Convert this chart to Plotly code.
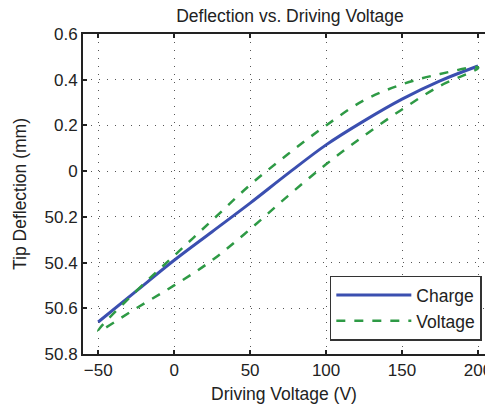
import plotly.graph_objects as go

# Data
charge_x = [-50, -25, 0, 25, 50, 75, 100, 125, 150, 175, 200]
charge_y = [-0.66, -0.525, -0.39, -0.265, -0.14, -0.01, 0.115, 0.22, 0.315, 0.395, 0.46]

# Voltage loop: upper branch then lower branch back
volt_up_x = [-50, -25, 0, 25, 50, 75, 100, 125, 150, 175, 200]
volt_up_y = [-0.70, -0.525, -0.37, -0.215, -0.06, 0.075, 0.20, 0.31, 0.38, 0.425, 0.455]
volt_dn_x = [200, 175, 150, 125, 100, 75, 50, 25, 0, -25, -50]
volt_dn_y = [0.45, 0.373, 0.27, 0.155, 0.03, -0.108, -0.254, -0.39, -0.50, -0.60, -0.70]

x_ticks = [-50, 0, 50, 100, 150, 200]
x_ticktext = ["\u221250", "0", "50", "100", "150", "200"]
y_ticks = [0.6, 0.4, 0.2, 0, -0.2, -0.4, -0.6, -0.8]
y_ticktext = ["0.6", "0.4", "0.2", "0", "50.2", "50.4", "50.6", "50.8"]

font = "Liberation Sans, Arial, Helvetica, sans-serif"

fig = go.Figure()
fig.add_trace(go.Scatter(x=charge_x, y=charge_y, mode="lines", name="Charge",
                         line=dict(color="#3b4fb0", width=3, shape="spline")))
fig.add_trace(go.Scatter(x=volt_up_x + volt_dn_x, y=volt_up_y + volt_dn_y, mode="lines",
                         name="Voltage",
                         line=dict(color="#2e9a45", width=2.5, dash="dash", shape="spline")))

fig.update_layout(
    width=485, height=404,
    margin=dict(l=83, r=0, t=34, b=50, autoexpand=False),
    paper_bgcolor="white", plot_bgcolor="white",
    font=dict(family=font, color="#222222"),
    title=dict(text="Deflection vs. Driving Voltage", x=0.598, xanchor="center",
               xref="container", y=0.96, yanchor="middle",
               font=dict(size=17.5, color="#222222")),
    showlegend=True,
    legend=dict(x=0.614, y=0.042, xanchor="left", yanchor="bottom",
                bgcolor="white", bordercolor="#333333", borderwidth=1.5,
                font=dict(size=17.5, color="#222222"), tracegroupgap=1,
                itemwidth=75),
)
fig.update_xaxes(range=[-60, 204.6], tickvals=x_ticks, ticktext=x_ticktext,
                 automargin=False, ticklabeloverflow="allow",
                 showgrid=True, gridcolor="#555555", griddash="1px,7px", gridwidth=1.2,
                 showline=True, linecolor="#222222", linewidth=2, mirror="ticks",
                 ticks="inside", ticklen=4, tickwidth=2, tickcolor="#222222",
                 zeroline=False, tickfont=dict(size=17),
                 title=dict(text="Driving Voltage (V)", font=dict(size=17.5), standoff=11))
fig.update_yaxes(range=[-0.8, 0.6], tickvals=y_ticks, ticktext=y_ticktext,
                 automargin=False,
                 showgrid=True, gridcolor="#555555", griddash="1px,7px", gridwidth=1.2,
                 showline=True, linecolor="#222222", linewidth=2, mirror=False,
                 ticks="inside", ticklen=4, tickwidth=2, tickcolor="#222222",
                 zeroline=False, tickfont=dict(size=17),
                 title=dict(text="Tip Deflection (mm)", font=dict(size=17.5), standoff=13))

fig.write_html("out.html", config={"displayModeBar": False},
               post_script="document.body.style.margin='0';document.body.style.overflow='hidden';")
